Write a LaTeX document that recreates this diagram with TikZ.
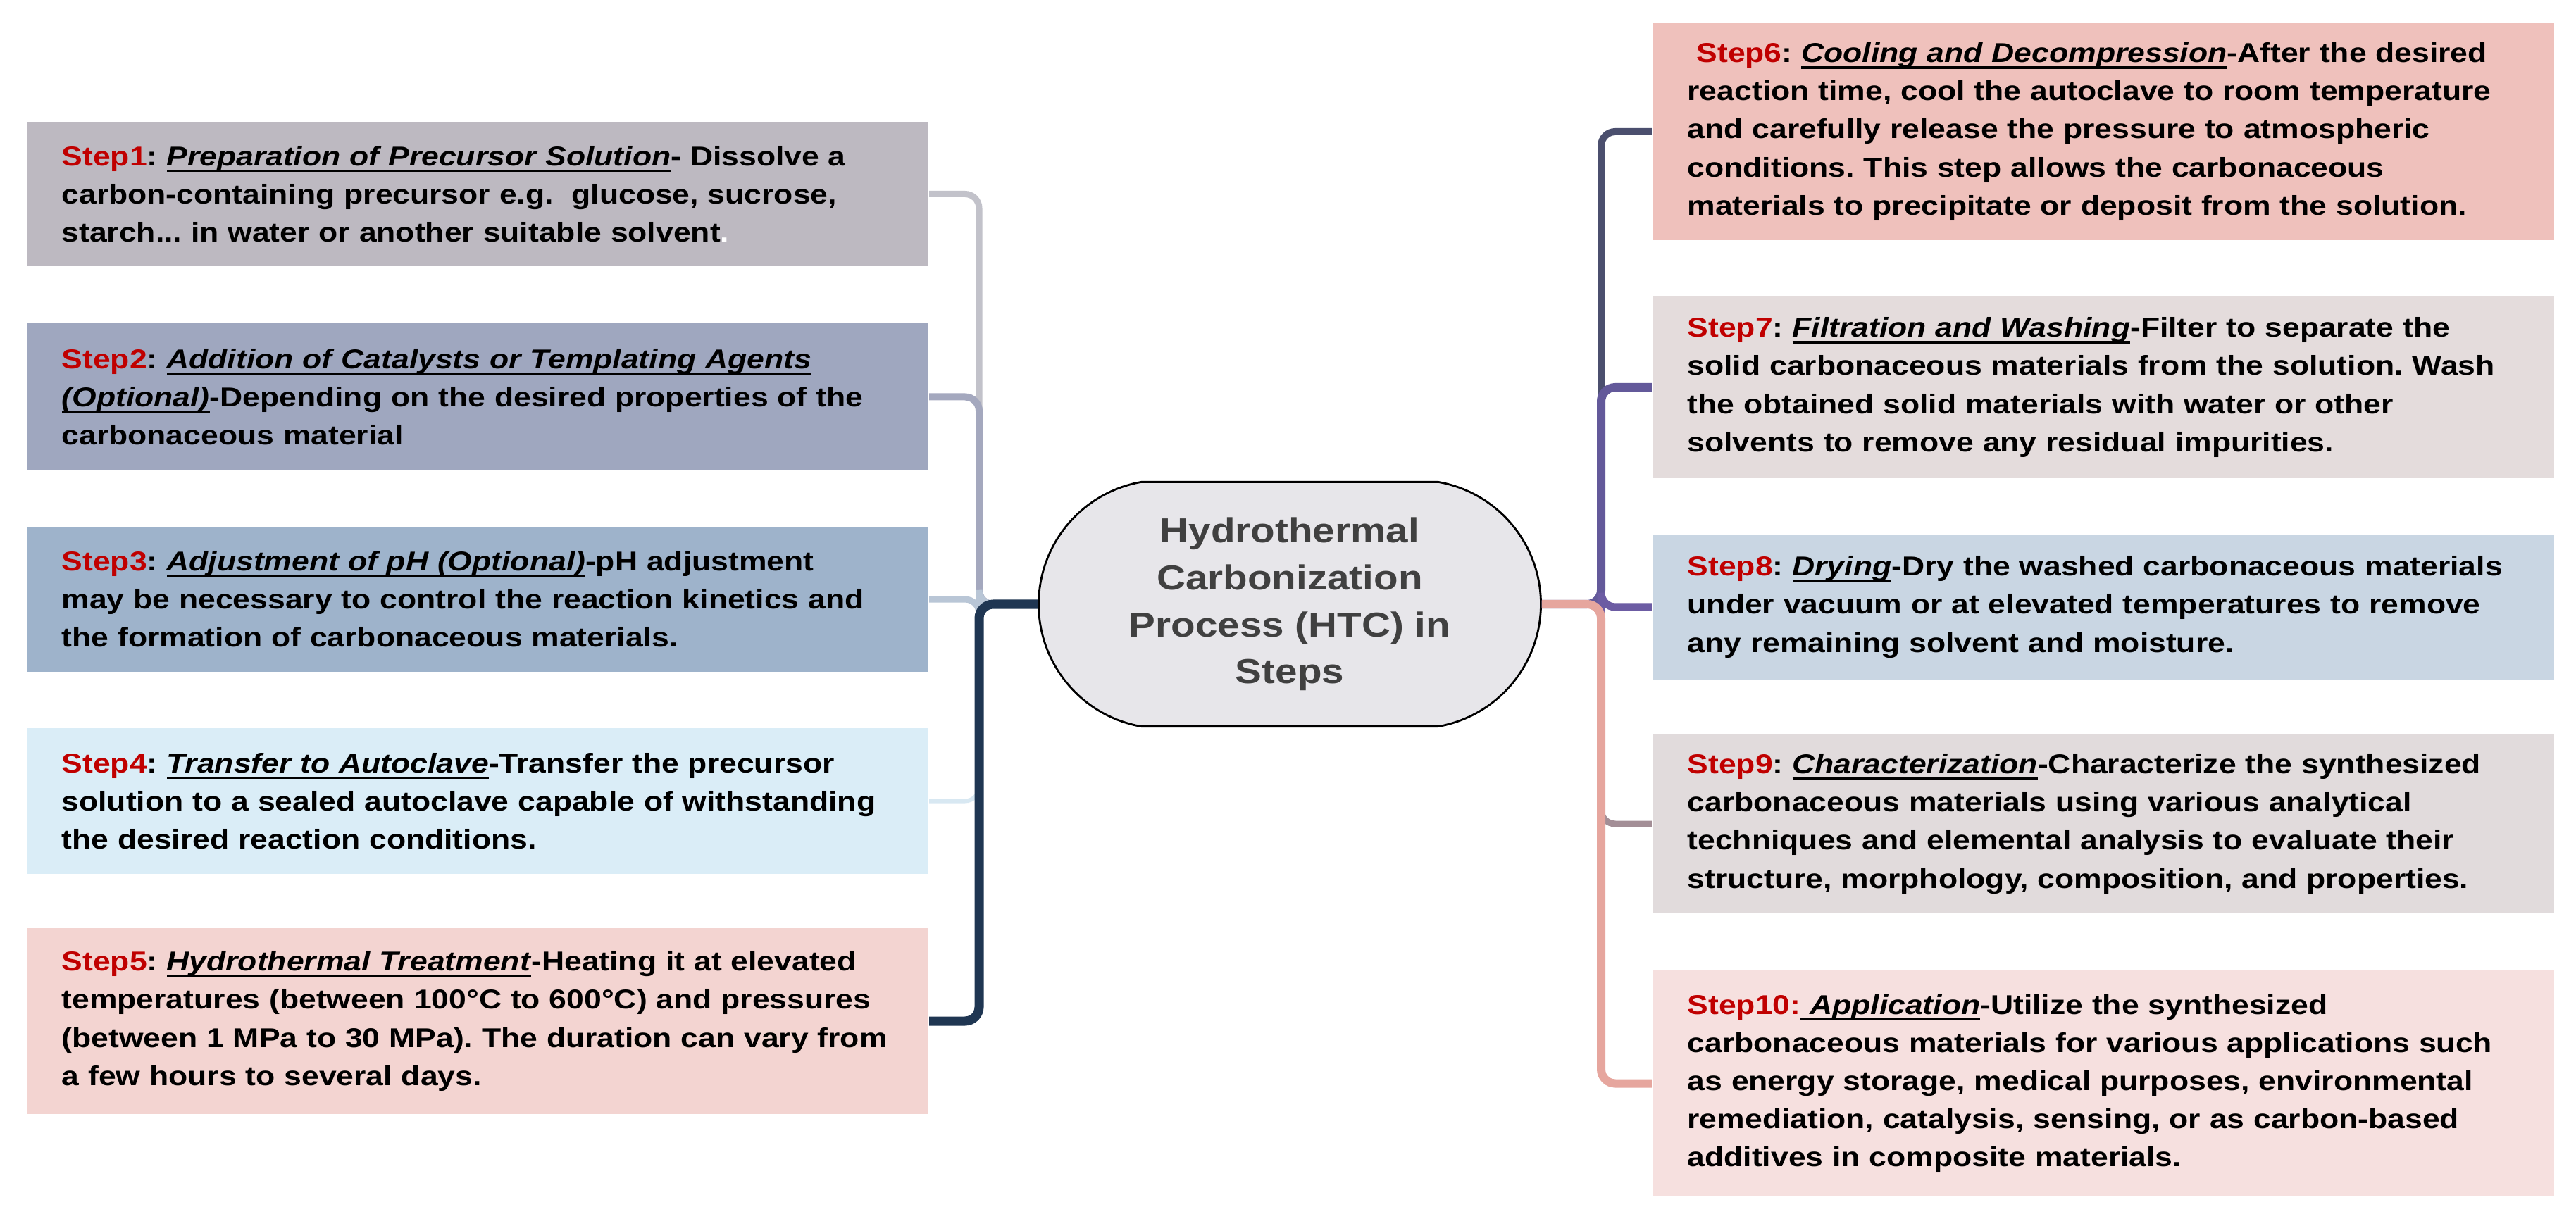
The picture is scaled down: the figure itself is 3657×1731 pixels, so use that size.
\documentclass[tikz,border=0pt]{standalone}
\usepackage{fontspec}
\setmainfont{Liberation Sans}[FakeStretch=1.15]
\usetikzlibrary{shapes.misc}

\definecolor{stepred}{HTML}{C00000}
\definecolor{hubfill}{HTML}{E7E6EA}
\definecolor{hubtext}{HTML}{404040}
\definecolor{sonefill}{HTML}{BDB9C1}
\definecolor{stwofill}{HTML}{9FA7BF}
\definecolor{sthreefill}{HTML}{9EB3CB}
\definecolor{sfourfill}{HTML}{DAEDF7}
\definecolor{sfivefill}{HTML}{F3D4D1}
\definecolor{ssixfill}{HTML}{EFC1BC}
\definecolor{ssevenfill}{HTML}{E4DCDC}
\definecolor{seightfill}{HTML}{C9D6E3}
\definecolor{sninefill}{HTML}{E1DBDC}
\definecolor{stenfill}{HTML}{F6E0DF}
\definecolor{lone}{HTML}{C2C2CA}
\definecolor{ltwo}{HTML}{A4A8BE}
\definecolor{lthree}{HTML}{B9C6D6}
\definecolor{lfour}{HTML}{D8E8F2}
\definecolor{lfive}{HTML}{1F3652}
\definecolor{rsix}{HTML}{4B4F6E}
\definecolor{rseven}{HTML}{63599A}
\definecolor{reight}{HTML}{6C5CA3}
\definecolor{rnine}{HTML}{A38E96}
\definecolor{rten}{HTML}{E6A69E}

\newsavebox{\ttlbox}
\newcommand{\stp}[1]{\textcolor{stepred}{#1}}
\newcommand{\ttl}[1]{\leavevmode\sbox{\ttlbox}{\textit{#1}}\rlap{\rule[-2.6pt]{\wd\ttlbox}{1pt}}\usebox{\ttlbox}}

\begin{document}
\begin{tikzpicture}[x=0.01cm, y=-0.01cm,
    stepbox/.style={rectangle, text width=11.8cm, align=left, inner xsep=0.5cm, inner ysep=0pt,
        minimum width=12.8cm, font=\fontsize{11pt}{15.4pt}\selectfont\bfseries\frenchspacing},
    hubnode/.style={rounded rectangle, rounded rectangle arc length=160, draw=black, line width=0.8pt,
        fill=hubfill, minimum width=7.36cm, minimum height=3.47cm, align=center, text=hubtext,
        font=\fontsize{14pt}{19pt}\selectfont\bfseries},
    link/.style={rounded corners=0.2cm}]
    \useasboundingbox (0,0) rectangle (3657,1731);

    \node[hubnode] (hub) at (1831,858) {Hydrothermal\\Carbonization\\Process (HTC) in\\Steps};

    \node[stepbox, fill=sonefill, minimum height=2.05cm] (s1) at (678,275.5)
        {\stp{Step1}: \ttl{Preparation of Precursor Solution}- Dissolve a\\
         carbon-containing precursor e.g.\ \ glucose, sucrose,\\
         starch... in water or another suitable solvent\textcolor{white}{.}};
    \node[stepbox, fill=stwofill, minimum height=2.09cm] (s2) at (678,563.5)
        {\stp{Step2}: \ttl{Addition of Catalysts or Templating Agents}\\
         \ttl{(Optional)}-Depending on the desired properties of the\\
         carbonaceous material};
    \node[stepbox, fill=sthreefill, minimum height=2.06cm] (s3) at (678,851)
        {\stp{Step3}: \ttl{Adjustment of pH (Optional)}-pH adjustment\\
         may be necessary to control the reaction kinetics and\\
         the formation of carbonaceous materials.};
    \node[stepbox, fill=sfourfill, minimum height=2.07cm] (s4) at (678,1137.5)
        {\stp{Step4}: \ttl{Transfer to Autoclave}-Transfer the precursor\\
         solution to a sealed autoclave capable of withstanding\\
         the desired reaction conditions.};
    \node[stepbox, fill=sfivefill, minimum height=2.64cm] (s5) at (678,1450)
        {\stp{Step5}: \ttl{Hydrothermal Treatment}-Heating it at elevated\\
         temperatures (between 100°C to 600°C) and pressures\\
         (between 1 MPa to 30 MPa). The duration can vary from\\
         a few hours to several days.};

    \node[stepbox, fill=ssixfill, minimum height=3.08cm] (s6) at (2986,187)
        {\ \stp{Step6}: \ttl{Cooling and Decompression}-After the desired\\
         reaction time, cool the autoclave to room temperature\\
         and carefully release the pressure to atmospheric\\
         conditions. This step allows the carbonaceous\\
         materials to precipitate or deposit from the solution.};
    \node[stepbox, fill=ssevenfill, minimum height=2.58cm] (s7) at (2986,550)
        {\stp{Step7}: \ttl{Filtration and Washing}-Filter to separate the\\
         solid carbonaceous materials from the solution. Wash\\
         the obtained solid materials with water or other\\
         solvents to remove any residual impurities.};
    \node[stepbox, fill=seightfill, minimum height=2.06cm] (s8) at (2986,862)
        {\stp{Step8}: \ttl{Drying}-Dry the washed carbonaceous materials\\
         under vacuum or at elevated temperatures to remove\\
         any remaining solvent and moisture.};
    \node[stepbox, fill=sninefill, minimum height=2.54cm] (s9) at (2986,1170)
        {\stp{Step9}: \ttl{Characterization}-Characterize the synthesized\\
         carbonaceous materials using various analytical\\
         techniques and elemental analysis to evaluate their\\
         structure, morphology, composition, and properties.};
    \node[stepbox, fill=stenfill, minimum height=3.21cm] (s10) at (2986,1538.5)
        {\stp{Step10:}\ttl{\ Application}-Utilize the synthesized\\
         carbonaceous materials for various applications such\\
         as energy storage, medical purposes, environmental\\
         remediation, catalysis, sensing, or as carbon-based\\
         additives in composite materials.};

    \coordinate (jl) at (1390,858);
    \coordinate (jr) at (2273,858);

    \draw[link, lone, line width=0.09cm] (hub.west) -- (jl) |- (s1.east);
    \draw[link, ltwo, line width=0.10cm] (hub.west) -- (jl) |- (s2.east);
    \draw[link, lthree, line width=0.09cm] (hub.west) -- (jl) |- (s3.east);
    \draw[link, lfour, line width=0.06cm] (hub.west) -- (jl) |- (s4.east);
    \draw[link, lfive, line width=0.13cm] (hub.west) -- (jl) |- (s5.east);

    \draw[link, rsix, line width=0.10cm] (hub.east) -- (jr) |- (s6.west);
    \draw[link, rseven, line width=0.12cm] (hub.east) -- (jr) |- (s7.west);
    \draw[link, reight, line width=0.11cm] (hub.east) -- (jr) |- (s8.west);
    \draw[link, rnine, line width=0.09cm] (hub.east) -- (jr) |- (s9.west);
    \draw[link, rten, line width=0.12cm] (hub.east) -- (jr) |- (s10.west);
\end{tikzpicture}
\end{document}
